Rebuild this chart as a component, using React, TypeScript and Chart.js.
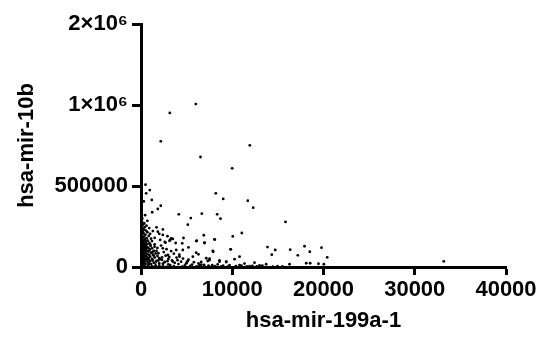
import React, { useEffect, useRef } from "react";
import { Chart, registerables } from "chart.js";

Chart.register(...registerables);

// hsa-mir-199a-1 (x) vs hsa-mir-10b (y) expression values
const outliers: [number, number][] = [
  [6005, 1006000], [3156, 951000], [2170, 776000], [11923, 751000], [6520, 679000], [9995, 609000],
  [493, 508000], [570, 455000], [964, 475000], [307, 405000], [1183, 414000], [8197, 455000],
  [9008, 420000], [11704, 409000], [12296, 366000], [2170, 378000], [1841, 358000], [1227, 338000],
  [4143, 325000], [6663, 329000], [8351, 325000], [5458, 302000], [8712, 298000], [15836, 278000],
  [5129, 261000], [11047, 210000], [6882, 196000], [10060, 189000], [8088, 169000], [4658, 179000],
  [3485, 173000], [3200, 167000], [4515, 146000], [6115, 162000], [6959, 148000], [5205, 121000],
  [7912, 94000], [9841, 109000], [13863, 123000], [14707, 105000], [16351, 107000], [17918, 128000],
  [18499, 94000], [19781, 119000], [20405, 60000], [14334, 76000], [17184, 72000], [33178, 35000],
];

const farBottom: [number, number][] = [
  [13720, 17000], [14960, 6000], [16280, 17000], [18110, 23000], [18540, 23000], [19450, 20000],
  [20040, 17000], [12990, 10000], [14450, 2000], [12440, 27000], [11340, 21000], [10800, 64000],
  [10250, 48000], [9340, 31000], [8600, 41000], [7320, 37000], [7510, 51000], [6600, 31000],
  [6050, 160000], [6960, 150000], [8050, 171000], [6050, 88000], [6300, 78000], [7870, 99000],
  [9810, 109000], [10800, 12000], [11900, 6000], [6410, 12000], [4950, 23000], [3490, 33000],
  [8604, 33000], [9340, 33000], [7150, 54000], [7508, 43000], [5680, 64000], [4220, 64000],
  [2940, 74000], [3860, 105000], [4580, 105000], [2390, 115000], [1480, 125000], [2685, 150000],
  [2100, 167000], [3124, 162000], [2390, 198000], [1841, 218000],
  [6600, 14000], [7800, 11000], [8400, 16000], [9000, 8000], [9700, 12000], [10400, 5000],
  [11000, 9000], [11600, 3000], [12200, 7000], [12700, 4000], [13300, 8000], [15500, 3000],
];

const midCluster: [number, number][] = [
  [1500, 140000], [2200, 132000], [1800, 118000], [2800, 110000], [3300, 98000], [2500, 92000],
  [1900, 85000], [3600, 82000], [4200, 76000], [2700, 70000], [3100, 62000], [3900, 58000],
  [4600, 52000], [2100, 48000], [5200, 45000], [3400, 41000], [2900, 36000], [4400, 33000],
  [5800, 30000], [1600, 28000], [3700, 26000], [5000, 24000], [6300, 22000], [2400, 20000],
  [4100, 18000], [5600, 15000], [6900, 13000], [3200, 12000], [4800, 10000], [7400, 9000],
  [2000, 8000], [5400, 7000], [8100, 6000], [3600, 5000], [6100, 4000], [8800, 3000],
  [4500, 2500], [7000, 2000], [9500, 1500], [1300, 1000], [2800, 500],
  [1700, 245000], [2400, 232000], [1300, 222000], [2000, 205000], [2900, 190000], [1500, 180000],
  [3300, 176000], [2600, 155000], [3800, 148000], [1200, 160000], [1700, 100000], [2300, 60000],
  [1400, 70000], [3000, 50000], [1900, 40000], [2600, 30000], [4000, 42000], [5100, 36000],
];

const nearAxis: [number, number][] = [
  [60, 290000], [120, 275000], [250, 262000], [80, 250000], [400, 245000], [180, 238000],
  [320, 230000], [550, 225000], [90, 220000], [700, 215000], [260, 210000], [150, 205000],
  [480, 200000], [60, 195000], [850, 192000], [350, 188000], [200, 182000], [620, 178000],
  [100, 175000], [420, 170000], [280, 165000], [750, 162000], [50, 158000], [180, 155000],
  [520, 152000], [900, 148000], [330, 145000], [130, 142000], [650, 140000], [450, 135000],
  [230, 132000], [1050, 130000], [80, 128000], [560, 125000], [350, 122000], [780, 120000],
  [160, 118000], [1200, 115000], [420, 112000], [260, 110000], [950, 108000], [70, 105000],
  [600, 103000], [1400, 100000], [320, 98000], [800, 95000], [180, 93000], [500, 90000],
  [1100, 88000], [60, 86000], [1600, 84000], [380, 82000], [700, 80000], [250, 78000],
  [1300, 76000], [900, 74000], [120, 72000], [550, 70000], [1800, 68000], [400, 66000],
  [1000, 64000], [220, 62000], [700, 60000], [1500, 58000], [80, 56000], [2000, 54000],
  [450, 52000], [1200, 50000], [300, 48000], [850, 46000], [2300, 44000], [150, 42000],
  [600, 40000], [1700, 38000], [1000, 36000], [350, 34000], [2600, 32000], [50, 30000],
  [750, 28000], [1400, 26000], [250, 24000], [2000, 22000], [500, 20000], [1100, 18000],
  [3000, 16000], [150, 14000], [800, 12000], [1600, 10000], [400, 8000], [2400, 6000],
  [100, 4000], [1200, 3000], [700, 2000],
  [40, 240000], [100, 230000], [200, 215000], [50, 200000], [150, 185000], [30, 170000],
  [250, 150000], [40, 138000], [100, 125000], [200, 100000], [30, 90000], [150, 70000],
  [40, 60000], [300, 40000], [20, 20000], [200, 10000], [60, 120000], [90, 160000],
  [130, 190000], [170, 60000], [210, 80000], [350, 270000], [600, 255000], [140, 300000],
  [450, 320000], [700, 285000], [900, 240000], [1000, 205000], [1100, 175000], [300, 112000],
  [500, 160000], [650, 118000], [900, 100000], [400, 95000], [250, 55000], [550, 48000],
  [900, 20000], [300, 26000], [1300, 40000], [800, 52000], [1000, 140000], [1250, 92000],
];

const yTickLabels: Record<number, string> = {
  0: "0",
  500000: "500000",
  1000000: "1×10⁶",
  1500000: "2×10⁶",
};

const xTitle = "hsa-mir-199a-1";
const yTitle = "hsa-mir-10b";

const FONT = "'Liberation Sans', Arial, Helvetica, sans-serif";

export default function App() {
  const ref = useRef<HTMLCanvasElement | null>(null);

  useEffect(() => {
    document.body.style.margin = "0";
    const canvas = ref.current;
    if (!canvas) return;
    const all = [...outliers, ...farBottom, ...midCluster, ...nearAxis].map(([x, y]) => ({ x, y }));
    const chart = new Chart(canvas, {
      type: "scatter",
      data: {
        datasets: [
          {
            data: all,
            backgroundColor: "#000",
            borderWidth: 0,
            pointRadius: 1.4,
            pointHoverRadius: 1.4,
          },
        ],
      },
      options: {
        animation: false,
        responsive: false,
        events: [],
        layout: { padding: { left: 0, right: 35, top: 24, bottom: 0 } },
        plugins: { legend: { display: false }, tooltip: { enabled: false } },
        scales: {
          x: {
            type: "linear",
            min: 0,
            max: 40000,
            ticks: {
              stepSize: 10000,
              color: "#000",
              padding: 2,
              maxRotation: 0,
              font: { family: FONT, size: 22, weight: "bold" },
              callback: (v: any) => String(v),
            },
            grid: {
              drawOnChartArea: false,
              drawTicks: true,
              tickLength: 8,
              tickWidth: 3,
              tickColor: "#000",
            },
            border: { display: true, color: "#000", width: 3 },
            title: {
              display: true,
              text: xTitle,
              color: "#000",
              padding: { top: 0, bottom: 6 },
              font: { family: FONT, size: 22, weight: "bold" },
            },
            afterFit: (s: any) => {
              s.height = 73;
            },
          },
          y: {
            type: "linear",
            min: 0,
            max: 1500000,
            ticks: {
              stepSize: 500000,
              color: "#000",
              padding: 4,
              font: { family: FONT, size: 22, weight: "bold" },
              callback: (v: any) => yTickLabels[v as number] ?? "",
            },
            grid: {
              drawOnChartArea: false,
              drawTicks: true,
              tickLength: 9,
              tickWidth: 3,
              tickColor: "#000",
            },
            border: { display: true, color: "#000", width: 3 },
            title: {
              display: true,
              text: yTitle,
              color: "#000",
              padding: { top: 14, bottom: 0 },
              font: { family: FONT, size: 22, weight: "bold" },
            },
            afterFit: (s: any) => {
              s.width = 141;
            },
          },
        },
      },
    });
    return () => chart.destroy();
  }, []);

  return <canvas ref={ref} width={541} height={340} style={{ display: "block" }} />;
}
